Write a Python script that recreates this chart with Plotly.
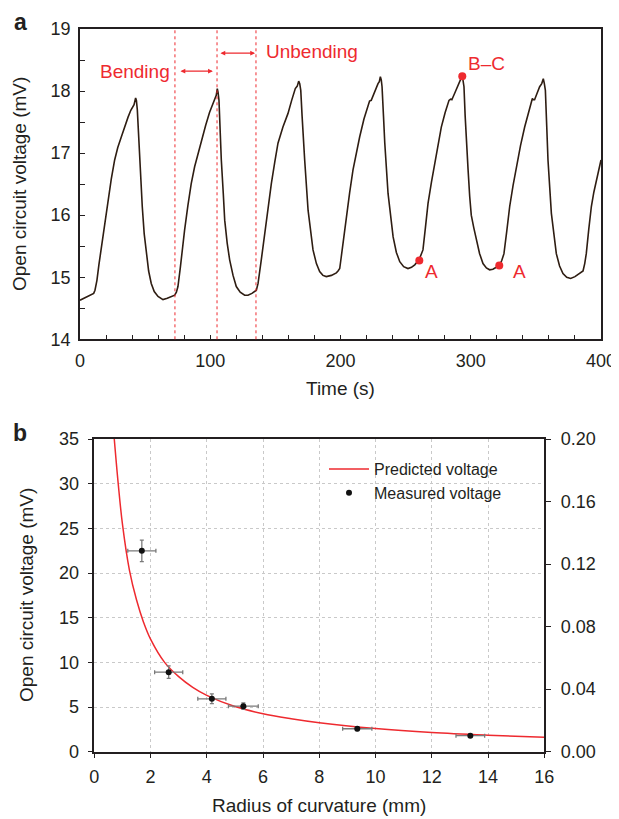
import plotly.graph_objects as go

# ---------------- Panel a data: open-circuit voltage vs time ----------------
time_s = [0, 3, 6, 9, 10.5, 11.5, 13, 14.5, 16.4, 19, 21.5, 24, 26.6, 29, 31.7, 34.3, 36.9, 39, 40.7, 41.5,
          42.7, 43.3, 44, 45, 45.8, 47.8, 49.3, 50.9, 52.7, 54.7, 57, 59.9, 63.7, 67, 70, 72.7,
          74, 75.2, 77, 78.5, 80.3, 82.8, 85.4, 88, 90.6, 93.5, 96.5, 99.5, 102, 104.6, 105.4, 106, 106.7,
          107.5, 108.5, 110, 111.1, 113, 114.9, 117.5, 120, 123, 126.4, 129, 132, 135.4,
          136.7, 139, 141.8, 144.3, 146.9, 149.5, 152, 155.8, 159.7, 162.5, 165.3, 166.8, 167.9, 168.7, 169.5,
          170.5, 171.5, 172.5, 175.1, 176.9, 178.9, 181.5, 184, 186.5, 189.1, 193, 196.8, 198.1, 199.4,
          200.6, 202.5, 204.5, 207, 209.6, 212.2, 214.7, 218, 221.1, 222.3, 223.6, 225.5, 227.5, 228.8, 229.8,
          230.6, 231.3, 231.9, 233, 234, 236.5, 238.4, 240.4, 242.9, 245.5, 248.5, 251.8, 254.5, 257, 260.3,
          261.8, 263.3, 265.2, 267.2, 269.8, 272.3, 274.8, 277.4, 280.3, 283.3, 284.5, 285.5, 288, 290.2, 291.8,
          293.3, 294, 294.8, 295.7, 296.6, 297.9, 299.2, 300.4, 302.3, 304.3, 306.8, 309.4, 312, 314.5, 317,
          319.6, 322.2, 323.8, 325.5, 327.7, 329.9, 332.5, 335, 338.2, 341.4, 344.3, 347.3, 348.2, 349, 351,
          352.9, 354.5, 355.7, 356.5, 357.3, 358.3, 359.3, 361.9, 363.8, 365.7, 368.2, 370.8, 373.7, 376.7, 380,
          383.6, 386.2, 387.5, 388.7, 390.6, 392.6, 394.5, 396.5, 398.3, 400]
voltage_mv = [14.63, 14.66, 14.69, 14.72, 14.74, 14.79, 14.95, 15.2, 15.49, 15.9, 16.24, 16.58, 16.89, 17.09, 17.26, 17.43, 17.58, 17.69, 17.76, 17.78,
              17.89, 17.85, 17.7, 17.25, 16.89, 16.14, 15.7, 15.38, 15.1, 14.9, 14.77, 14.69, 14.64, 14.66, 14.69, 14.71,
              14.76, 14.85, 15.15, 15.45, 15.76, 16.15, 16.51, 16.78, 17.0, 17.24, 17.45, 17.66, 17.8, 17.93, 18.04, 17.98, 17.85,
              17.4, 16.89, 16.35, 15.92, 15.55, 15.28, 15.03, 14.85, 14.76, 14.71, 14.71, 14.74, 14.79,
              14.9, 15.25, 15.71, 16.13, 16.51, 16.85, 17.16, 17.42, 17.64, 17.85, 18.04, 18.08, 18.16, 18.12, 18.01,
              17.6, 17.2, 16.89, 16.08, 15.75, 15.44, 15.22, 15.09, 15.03, 15.01, 15.03, 15.07, 15.1, 15.14,
              15.33, 15.65, 15.97, 16.36, 16.73, 17.02, 17.26, 17.55, 17.77, 17.84, 17.85, 17.95, 18.07, 18.12, 18.15,
              18.23, 18.18, 18.07, 17.6, 17.16, 16.35, 15.97, 15.65, 15.4, 15.25, 15.17, 15.14, 15.16, 15.2, 15.28,
              15.35, 15.44, 15.8, 16.19, 16.53, 16.83, 17.14, 17.42, 17.65, 17.85, 17.87, 17.86, 17.98, 18.09, 18.15,
              18.24, 18.18, 18.07, 17.6, 17.16, 16.75, 16.3, 16.0, 15.8, 15.6, 15.38, 15.22, 15.15, 15.12, 15.13,
              15.16, 15.2, 15.27, 15.38, 15.75, 16.14, 16.48, 16.78, 17.12, 17.42, 17.67, 17.88, 17.86, 17.86, 17.97,
              18.07, 18.12, 18.2, 18.12, 18.01, 17.45, 16.89, 16.03, 15.68, 15.38, 15.18, 15.06, 15.0, 14.98, 15.01,
              15.06, 15.1, 15.22, 15.38, 15.77, 16.14, 16.37, 16.57, 16.75, 16.89]

# marked states
state_labels = ["A", "B–C", "A"]
state_time = [260.5, 293.5, 321.9]
state_volt = [15.27, 18.24, 15.19]
state_label_time = [270, 312, 337.3]
state_label_volt = [15.09, 18.44, 15.09]

# bending / unbending boundaries (s)
boundary_times = [72.9, 105.2, 135.1]
bending_span = [76.0, 102.0]
bending_level = 18.32
unbending_span = [106.7, 134.4]
unbending_level = 18.61

# ---------------- Panel b data: voltage vs radius of curvature ----------------
radius_pred = [0.71, 0.85, 1.0, 1.25, 1.5, 1.75, 2.0, 2.5, 3.0, 3.5, 4.0, 5.0, 6.0, 7.0, 8.0, 10.0, 12.0, 14.0, 16.0]
volt_pred = [35.0, 30.0, 25.5, 20.3, 17.0, 14.5, 12.6, 10.0, 8.4, 7.2, 6.3, 5.05, 4.25, 3.7, 3.25, 2.6, 2.15, 1.85, 1.62]

radius_meas = [1.69, 2.645, 4.18, 5.30, 9.35, 13.37]
volt_meas = [22.48, 8.9, 5.92, 5.1, 2.57, 1.79]
radius_err = [0.5, 0.5, 0.5, 0.53, 0.52, 0.51]
volt_err = [1.2, 0.7, 0.55, 0.35, 0.2, 0.15]

RED = "#ee2a2f"
INK = "#231f20"
FONT = "Liberation Sans"
# the page body adds an 8 px margin at the top-left; the window crops the rest
OFF = 8
W, H = 619 - OFF, 819 - OFF


def px(x):
    return (x - OFF) / W


def py(y):
    return 1 - (y - OFF) / H


fig = go.Figure()

# panel a trace
fig.add_trace(go.Scatter(x=time_s, y=voltage_mv, mode="lines", xaxis="x", yaxis="y",
                         line=dict(color="#2e1d12", width=1.6), showlegend=False, hoverinfo="skip"))
fig.add_trace(go.Scatter(x=state_time, y=state_volt, mode="markers", xaxis="x", yaxis="y",
                         marker=dict(color=RED, size=8), showlegend=False))

# panel b traces
fig.add_trace(go.Scatter(x=radius_pred, y=volt_pred, mode="lines", xaxis="x2", yaxis="y2",
                         line=dict(color=RED, width=1.5, shape="spline", smoothing=1.0),
                         name="Predicted voltage"))
fig.add_trace(go.Scatter(x=radius_meas, y=volt_meas, mode="markers", xaxis="x2", yaxis="y2",
                         marker=dict(color="#111111", size=6),
                         error_x=dict(type="data", array=radius_err, color="#7a7a7a", thickness=1.3, width=2),
                         error_y=dict(type="data", array=volt_err, color="#7a7a7a", thickness=1.3, width=2),
                         name="Measured voltage"))
# invisible trace to activate right axis
fig.add_trace(go.Scatter(x=[0], y=[0], mode="markers", xaxis="x2", yaxis="y3",
                         marker=dict(opacity=0), showlegend=False, hoverinfo="skip"))

tickfont = dict(family=FONT, size=18, color=INK)
common = dict(automargin=False, showgrid=False, zeroline=False, tickfont=tickfont,
              tickwidth=1, tickcolor=INK, ticklen=5, linecolor=INK, linewidth=1.5, showline=True)

fig.update_layout(
    template="none",
    width=W, height=H, margin=dict(l=0, r=0, t=0, b=0, pad=0, autoexpand=False),
    paper_bgcolor="white", plot_bgcolor="white",
    font=dict(family=FONT, color=INK),
    xaxis=dict(domain=[px(80), px(601)], anchor="y", range=[0, 400], dtick=100, tick0=0,
               ticks="inside", mirror=True,
               minor=dict(dtick=20, ticks="inside", ticklen=5, tickcolor=INK, tickwidth=1, showgrid=False),
               ticklabelstandoff=4, **common),
    yaxis=dict(domain=[py(339.3), py(29)], anchor="x", range=[14, 19], dtick=1, tick0=0,
               ticks="inside", mirror=True,
               minor=dict(dtick=0.5, ticks="inside", ticklen=5, tickcolor=INK, tickwidth=1, showgrid=False),
               ticklabelstandoff=4, **common),
    xaxis2=dict(domain=[px(94.3), px(544.3)], anchor="y2", range=[0, 16], dtick=2, tick0=0,
                ticks="outside", mirror=True, ticklabelstandoff=3,
                **{**common, "showgrid": True}, gridcolor="#c9c9c9", griddash="dot", gridwidth=1),
    yaxis2=dict(domain=[py(751.7), py(439)], anchor="x2", range=[0, 35], dtick=5, tick0=0,
                ticks="outside", ticklabelstandoff=5,
                **{**common, "showgrid": True}, gridcolor="#c9c9c9", griddash="dot", gridwidth=1),
    yaxis3=dict(overlaying="y2", side="right", anchor="x2", range=[0, 0.20], dtick=0.04, tick0=0,
                tickformat=".2f", ticks="outside", ticklabelstandoff=6, **common),
    legend=dict(x=px(324), y=py(452), xanchor="left", yanchor="top",
                bgcolor="rgba(0,0,0,0)", borderwidth=0, font=dict(family=FONT, size=16, color=INK),
                tracegroupgap=0, itemwidth=40),
    showlegend=True,
)

shapes = []
for bt in boundary_times:
    shapes.append(dict(type="line", xref="x", yref="y domain", x0=bt, x1=bt, y0=0, y1=1,
                       line=dict(color=RED, width=1, dash="dot")))
fig.update_layout(shapes=shapes)

ann = []
# double arrows
for span, lvl in ((bending_span, bending_level), (unbending_span, unbending_level)):
    ann.append(dict(x=span[1], y=lvl, ax=span[0], ay=lvl, xref="x", yref="y", axref="x", ayref="y",
                    showarrow=True, arrowhead=2, startarrowhead=2, arrowside="end+start",
                    arrowsize=0.8, startarrowsize=0.8, arrowwidth=1.2, arrowcolor=RED, text=""))
ann.append(dict(x=70.6, y=bending_level, xref="x", yref="y", text="Bending", showarrow=False,
                xanchor="right", yanchor="middle", font=dict(family=FONT, size=19, color=RED)))
ann.append(dict(x=141.3, y=unbending_level + 0.02, xref="x", yref="y", text="Unbending", showarrow=False,
                xanchor="left", yanchor="middle", font=dict(family=FONT, size=19, color=RED)))
for lab, lx, ly in zip(state_labels, state_label_time, state_label_volt):
    ann.append(dict(x=lx, y=ly, xref="x", yref="y", text=lab, showarrow=False,
                    xanchor="center", yanchor="middle", font=dict(family=FONT, size=19, color=RED)))
# axis titles
ann.append(dict(x=px(19), y=py(184), xref="paper", yref="paper", text="Open circuit voltage (mV)",
                textangle=-90, showarrow=False, xanchor="center", yanchor="middle",
                font=dict(family=FONT, size=19, color=INK)))
ann.append(dict(x=px(340), y=py(388), xref="paper", yref="paper", text="Time (s)",
                showarrow=False, xanchor="center", yanchor="middle",
                font=dict(family=FONT, size=19, color=INK)))
ann.append(dict(x=px(26), y=py(595), xref="paper", yref="paper", text="Open circuit voltage (mV)",
                textangle=-90, showarrow=False, xanchor="center", yanchor="middle",
                font=dict(family=FONT, size=19, color=INK)))
ann.append(dict(x=px(319), y=py(805), xref="paper", yref="paper", text="Radius of curvature (mm)",
                showarrow=False, xanchor="center", yanchor="middle",
                font=dict(family=FONT, size=19, color=INK)))
# panel letters
ann.append(dict(x=px(20), y=py(22), xref="paper", yref="paper", text="<b>a</b>", showarrow=False,
                xanchor="center", yanchor="middle", font=dict(family=FONT, size=23, color=INK)))
ann.append(dict(x=px(20), y=py(433), xref="paper", yref="paper", text="<b>b</b>", showarrow=False,
                xanchor="center", yanchor="middle", font=dict(family=FONT, size=23, color=INK)))
fig.update_layout(annotations=ann)

fig.write_html("out.html")
